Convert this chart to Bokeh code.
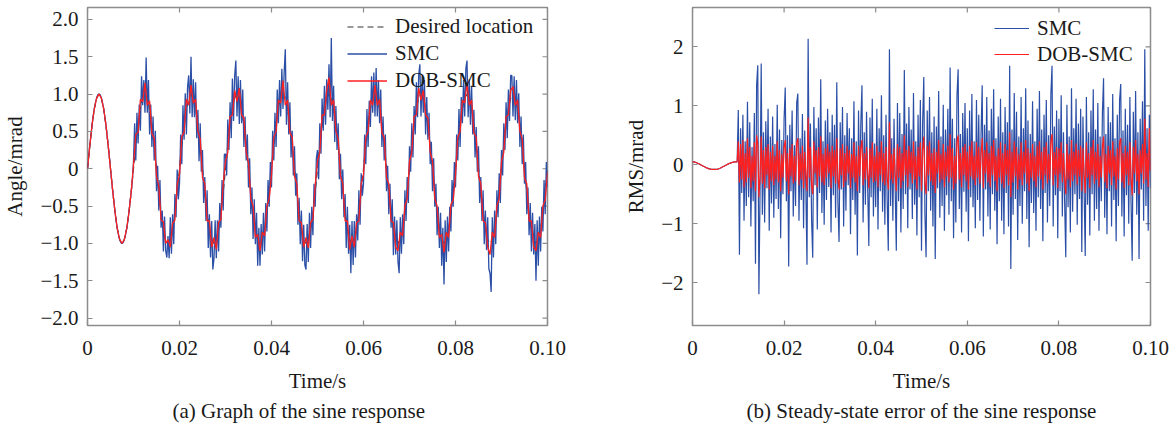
import numpy as np
from bokeh.plotting import figure
from bokeh.models import Range1d, FixedTicker, Legend, LegendItem, Title
from bokeh.layouts import row
from bokeh.embed import file_html
from bokeh.resources import INLINE

FONT = "Liberation Serif"
BLUE = "#2b4fa6"
RED = "#ff2020"
GRAY = "#8c8c8c"
TXT = "#1a1a1a"
M = "\u2212"

# ---------------- data: (a) sine response ----------------
# desired location and DOB-SMC, sampled every 0.0005 s
t_a = np.round(np.arange(201) * 0.0005, 6)

desired = [
    0, 0.31, 0.59, 0.81, 0.95, 1.0, 0.95, 0.81, 0.59, 0.31, 0, -0.31, -0.59, -0.81, -0.95, -1.0, -0.95, -0.81, -0.59, -0.31,
    0, 0.31, 0.59, 0.81, 0.95, 1.0, 0.95, 0.81, 0.59, 0.31, 0, -0.31, -0.59, -0.81, -0.95, -1.0, -0.95, -0.81, -0.59, -0.31,
    0, 0.31, 0.59, 0.81, 0.95, 1.0, 0.95, 0.81, 0.59, 0.31, 0, -0.31, -0.59, -0.81, -0.95, -1.0, -0.95, -0.81, -0.59, -0.31,
    0, 0.31, 0.59, 0.81, 0.95, 1.0, 0.95, 0.81, 0.59, 0.31, 0, -0.31, -0.59, -0.81, -0.95, -1.0, -0.95, -0.81, -0.59, -0.31,
    0, 0.31, 0.59, 0.81, 0.95, 1.0, 0.95, 0.81, 0.59, 0.31, 0, -0.31, -0.59, -0.81, -0.95, -1.0, -0.95, -0.81, -0.59, -0.31,
    0, 0.31, 0.59, 0.81, 0.95, 1.0, 0.95, 0.81, 0.59, 0.31, 0, -0.31, -0.59, -0.81, -0.95, -1.0, -0.95, -0.81, -0.59, -0.31,
    0, 0.31, 0.59, 0.81, 0.95, 1.0, 0.95, 0.81, 0.59, 0.31, 0, -0.31, -0.59, -0.81, -0.95, -1.0, -0.95, -0.81, -0.59, -0.31,
    0, 0.31, 0.59, 0.81, 0.95, 1.0, 0.95, 0.81, 0.59, 0.31, 0, -0.31, -0.59, -0.81, -0.95, -1.0, -0.95, -0.81, -0.59, -0.31,
    0, 0.31, 0.59, 0.81, 0.95, 1.0, 0.95, 0.81, 0.59, 0.31, 0, -0.31, -0.59, -0.81, -0.95, -1.0, -0.95, -0.81, -0.59, -0.31,
    0, 0.31, 0.59, 0.81, 0.95, 1.0, 0.95, 0.81, 0.59, 0.31, 0, -0.31, -0.59, -0.81, -0.95, -1.0, -0.95, -0.81, -0.59, -0.31,
    0,
]

dob_a = [
    0, 0.31, 0.59, 0.81, 0.95, 1.0, 0.95, 0.81, 0.59, 0.31, 0, -0.31, -0.59, -0.81, -0.95, -1.0, -0.95, -0.81, -0.59, -0.31,
    0.05, 0.46, 0.49, 0.93, 0.90, 1.15, 0.85, 0.91, 0.47, 0.41, -0.10, -0.23, -0.69, -0.71, -1.00, -0.95, -1.05, -0.73, -0.69, -0.21,
    -0.08, 0.43, 0.49, 0.93, 0.85, 1.12, 0.88, 0.93, 0.50, 0.40, -0.12, -0.20, -0.70, -0.70, -1.05, -0.92, -1.08, -0.72, -0.68, -0.20,
    0.10, 0.22, 0.70, 0.72, 1.05, 0.90, 1.08, 0.72, 0.68, 0.22, 0.08, -0.40, -0.50, -0.92, -0.88, -1.10, -0.85, -0.90, -0.50, -0.40,
    -0.08, 0.42, 0.50, 0.92, 0.88, 1.18, 0.85, 0.92, 0.48, 0.42, -0.10, -0.20, -0.70, -0.72, -1.05, -0.92, -1.06, -0.72, -0.68, -0.22,
    0.10, 0.22, 0.72, 0.72, 1.05, 1.22, 0.85, 0.92, 0.50, 0.40, -0.10, -0.20, -0.70, -0.70, -1.08, -0.90, -1.05, -0.72, -0.70, -0.20,
    -0.08, 0.42, 0.50, 0.92, 0.85, 1.12, 0.85, 0.93, 0.48, 0.42, -0.12, -0.20, -0.70, -0.72, -1.05, -1.10, -0.85, -0.90, -0.50, -0.40,
    0.10, 0.22, 0.70, 0.72, 1.08, 0.92, 1.05, 0.72, 0.68, 0.22, 0.10, -0.40, -0.50, -0.92, -0.88, -1.12, -0.85, -0.92, -0.48, -0.42,
    -0.08, 0.42, 0.50, 0.92, 0.88, 1.15, 0.85, 0.92, 0.48, 0.42, -0.10, -0.20, -0.70, -0.72, -1.05, -1.15, -0.85, -0.92, -0.50, -0.40,
    0.10, 0.22, 0.70, 0.72, 1.05, 1.10, 0.85, 0.92, 0.50, 0.40, -0.12, -0.20, -0.70, -0.70, -1.05, -1.10, -0.85, -0.92, -0.50, -0.42,
    -0.05,
]

# SMC, sampled every 0.00025 s (two rows per 0.01 s period)
t_s = np.round(np.arange(401) * 0.00025, 6)

smc_a = [
    0, 0.16, 0.31, 0.45, 0.59, 0.71, 0.81, 0.89, 0.95, 0.99, 1.0, 0.99, 0.95, 0.89, 0.81, 0.71, 0.59, 0.45, 0.31, 0.16,
    0, -0.16, -0.31, -0.45, -0.59, -0.71, -0.81, -0.89, -0.95, -0.99, -1.0, -0.99, -0.95, -0.89, -0.81, -0.71, -0.59, -0.45, -0.31, -0.16,
    0.10, 0.61, 0.11, 0.75, 0.34, 0.86, 0.51, 1.24, 0.85, 1.19, 0.75, 1.49, 0.75, 1.19, 0.46, 0.86, 0.29, 0.70, 0.11, 0.51,
    -0.30, 0.04, -0.56, -0.15, -0.79, -0.56, -1.11, -0.64, -1.10, -1.19, -0.90, -1.20, -0.65, -1.14, -0.61, -1.01, -0.34, -0.65, -0.01, -0.41,
    -0.20, 0.46, 0.06, 0.85, 0.39, 1.01, 0.46, 1.09, 1.25, 0.74, 1.50, 0.69, 1.20, 0.69, 1.16, 0.41, 0.79, 0.10, 0.61, -0.04,
    0.25, -0.46, -0.11, -0.70, -0.29, -1.06, -0.61, -1.19, -0.70, -1.35, -1.20, -0.69, -1.20, -0.69, -1.11, -0.46, -0.79, -0.15, -0.56, 0.19,
    0.20, -0.09, 0.66, 0.25, 0.89, 0.41, 1.21, 0.64, 1.25, 1.45, 0.70, 1.24, 0.60, 1.19, 0.61, 1.06, 0.29, 0.70, 0.11, 0.46,
    -0.25, 0.14, -0.61, -0.25, -0.94, -0.41, -1.01, -0.59, -1.30, -0.79, -1.30, -0.74, -1.15, -0.59, -1.11, -0.46, -0.84, -0.15, -0.51, 0.09,
    -0.25, 0.51, 0.11, 0.75, 0.29, 1.06, 0.61, 1.19, 0.70, 1.34, 0.80, 1.29, 1.60, 0.59, 1.16, 0.46, 0.89, 0.15, 0.51, -0.09,
    0.30, -0.36, -0.06, -0.75, -0.39, -1.01, -0.56, -1.24, -0.75, -1.29, -1.35, -0.74, -1.25, -0.59, -1.06, -0.51, -0.89, -0.20, -0.51, 0.14,
    0.25, -0.14, 0.61, 0.20, 0.94, 0.51, 1.11, 0.59, 1.20, 0.79, 1.40, 0.69, 1.75, 0.64, 1.11, 0.36, 0.84, 0.25, 0.61, -0.14,
    0.20, -0.41, -0.01, -0.65, -0.34, -1.06, -0.51, -1.14, -0.75, -1.40, -0.70, -1.29, -0.70, -1.19, -0.61, -0.96, -0.29, -0.75, -0.06, -0.36,
    -0.20, 0.46, 0.06, 0.80, 0.29, 0.91, 0.56, 1.24, 0.75, 1.29, 0.70, 1.35, 0.70, 1.19, 0.61, 1.06, 0.29, 0.70, 0.11, 0.46,
    -0.30, 0.04, -0.61, -0.20, -0.79, -0.41, -1.16, -0.64, -1.15, -0.69, -1.25, -1.40, -0.65, -1.14, -0.61, -1.01, -0.29, -0.70, -0.11, -0.46,
    0.30, -0.04, 0.61, 0.15, 0.84, 0.46, 1.16, 0.69, 1.25, 1.40, 0.70, 1.24, 0.75, 1.19, 0.46, 0.96, 0.39, 0.75, 0.06, 0.36,
    -0.30, 0.14, -0.51, -0.20, -0.89, -0.51, -1.06, -0.59, -1.30, -0.79, -1.55, -0.69, -1.25, -0.64, -1.11, -0.51, -0.84, -0.15, -0.51, 0.09,
    -0.25, 0.46, 0.11, 0.80, 0.29, 0.96, 0.61, 1.19, 0.70, 1.34, 1.45, 0.69, 1.20, 0.59, 1.11, 0.46, 0.79, 0.15, 0.56, -0.04,
    0.30, -0.46, -0.11, -0.70, -0.29, -1.01, -0.56, -1.09, -0.65, -1.34, -1.40, -1.65, -0.65, -1.19, -0.56, -1.01, -0.29, -0.65, -0.06, -0.46,
    0.25, -0.09, 0.61, 0.25, 0.89, 0.41, 1.06, 0.64, 1.25, 1.25, 0.70, 1.24, 0.65, 1.19, 0.61, 1.01, 0.29, 0.70, 0.06, 0.46,
    -0.20, 0.09, -0.61, -0.25, -0.89, -0.46, -1.11, -0.59, -1.15, -0.74, -1.50, -0.69, -1.30, -0.64, -1.11, -0.51, -0.84, -0.15, -0.61, 0.09,
    -0.25,
]

# ---------------- data: (b) steady-state error, sampled every 0.00025 s ----------------
t_b = np.round(np.arange(401) * 0.00025, 6)

err_start = [
    0.05, 0.048, 0.044, 0.038, 0.03, 0.021, 0.011, 0.0, -0.01, -0.02,
    -0.03, -0.04, -0.05, -0.058, -0.065, -0.07, -0.075, -0.078, -0.08, -0.08,
    -0.08, -0.078, -0.074, -0.068, -0.06, -0.05, -0.04, -0.03, -0.02, -0.01,
    0.0, 0.01, 0.02, 0.028, 0.035, 0.04, 0.045, 0.048, 0.05, 0.05,
]

smc_err = err_start + [
    0.93, -1.53, 0.62, -0.48, 0.85, -0.95, 0.40, -0.70, 1.07, -0.55, 0.72, -1.05, 0.30, -0.62, 0.88, -1.68, 1.35, 1.69, -2.20, -0.45,
    1.72, -0.85, 0.55, -0.98, 0.74, -0.40, 0.95, -1.12, 0.48, -0.66, 0.82, -0.90, 0.35, -0.58, 1.02, -0.75, 0.60, -1.25, 0.42, -0.50,
    0.78, 1.31, -0.62, 0.50, -1.73, 0.68, -0.45, 0.92, -0.88, 0.33, -0.70, 1.05, 1.21, -0.95, 0.45, -0.60, 0.86, -1.08, 0.58, -0.42,
    -1.70, 2.14, -0.55, 0.70, -0.92, -1.58, 0.98, -0.35, 0.62, -1.10, 0.80, -0.48, 1.45, -0.82, 0.40, -1.02, 0.75, -0.60, 0.95, -0.38,
    0.55, -1.15, 0.85, -0.52, 0.68, -0.90, 1.40, -0.65, -1.31, 0.72, -0.42, 0.98, -1.05, 0.50, -0.78, 0.88, -0.35, 0.62, -1.18, 0.45,
    -0.60, 1.08, -0.85, 0.40, -1.54, 0.92, -0.48, 0.70, 1.35, -0.98, 0.55, -0.68, 0.90, -0.40, -1.38, 0.80, -0.55, 1.12, -0.88, 0.36,
    -0.72, 0.95, -1.10, 0.62, -0.45, 1.18, -0.80, 0.50, -1.02, 0.85, -0.58, -1.46, 1.96, -0.70, 0.45, -0.95, 0.78, -0.40, -1.46, 1.05,
    -0.62, 0.88, -1.15, 0.52, -0.75, 1.61, -0.50, 0.70, -1.08, 0.98, -0.42, 0.60, -0.92, 1.22, -0.68, 0.40, -1.20, 0.85, -0.55, 1.10,
    -1.46, 0.72, 1.49, -0.85, -1.57, 0.92, -0.45, 1.15, -0.78, 0.55, -1.05, 0.82, -1.60, 0.65, -0.40, 1.25, -0.90, 0.48, -0.70, 1.02,
    -1.12, 0.60, -0.52, 0.95, -0.85, 1.65, -0.62, 0.78, -1.25, 0.45, -0.98, 1.18, 1.62, -0.75, 0.52, -1.15, 0.88, -0.46, 1.05, -0.80,
    0.62, -1.30, 0.92, -0.55, 1.20, -0.72, 0.40, -1.08, 1.10, -0.60, 0.85, -0.95, 0.50, 1.35, -1.22, 0.68, -0.42, 1.15, -0.88, 0.58,
    -1.10, 0.95, -0.50, 1.28, -0.78, 0.45, -1.35, 0.82, -0.62, 1.12, -0.95, 0.55, -1.18, 0.98, -0.48, 0.72, -1.05, 1.68, -1.77, 0.60,
    -0.85, 1.22, -0.58, 0.90, -1.28, 0.48, -0.70, 1.15, -1.00, 0.62, -0.45, 1.30, -0.92, 0.75, -1.40, 0.52, -0.65, 1.08, -0.82, 0.40,
    -1.12, 0.95, -0.55, 1.25, -0.75, 0.60, -1.30, 0.85, -0.48, 1.10, -0.98, 0.50, -0.70, 1.20, 1.68, -1.05, 0.65, -0.52, 0.92, -1.25,
    0.78, -0.45, 1.18, -0.88, 0.55, -0.62, -1.57, 1.02, -0.72, 0.48, -1.15, 1.30, -0.80, 0.62, -0.50, 1.12, -1.02, 0.70, -0.58, 0.95,
    -1.48, 0.82, -0.40, -1.55, 1.15, -0.68, 0.55, -1.20, 0.92, -0.50, 1.28, -0.95, 0.60, -0.75, 1.05, -1.12, 0.48, -0.62, 0.88, 1.47,
    -0.90, 0.52, -1.18, 0.98, -0.45, 0.72, -1.05, 1.20, -0.60, 0.45, -1.30, 0.85, -0.70, 1.10, 1.37, -0.88, 0.58, -1.22, 0.95, -0.52,
    0.68, -1.00, 1.15, -0.62, -1.63, 0.90, -0.48, 1.25, -0.85, 0.55, -1.60, 0.78, -0.42, 1.08, -0.95, 1.96, -0.70, 0.62, -1.12, 0.85,
    -0.40,
]

dob_err = err_start + [
    0.40, -0.30, 0.35, -0.25, 0.42, -0.38, 0.20, -0.30, 0.45, -0.22, 0.30, -0.40, 0.15, -0.28, 0.38, -0.45, 0.50, 0.35, -0.55, -0.20,
    0.48, -0.32, 0.25, -0.40, 0.30, -0.18, 0.35, -0.42, 0.22, -0.28, 0.32, -0.35, 0.15, -0.25, 0.40, -0.30, 0.25, -0.45, 0.18, -0.22,
    0.30, 0.42, -0.28, 0.20, -0.50, 0.28, -0.20, 0.35, -0.32, 0.15, -0.28, 0.38, 0.45, -0.35, 0.20, -0.25, 0.32, -0.40, 0.22, -0.18,
    -0.45, 0.80, -0.22, 0.30, -0.35, -0.50, 0.40, -0.15, 0.25, -0.38, 0.30, -0.20, 0.48, -0.30, 0.18, -0.35, 0.28, -0.22, 0.35, -0.15,
    0.22, -0.40, 0.32, -0.20, 0.25, -0.32, 0.45, -0.25, -0.42, 0.28, -0.18, 0.35, -0.38, 0.20, -0.28, 0.32, -0.15, 0.25, -0.40, 0.18,
    -0.22, 0.38, -0.30, 0.15, -0.45, 0.32, -0.20, 0.28, 0.42, -0.35, 0.20, -0.25, 0.30, -0.15, -0.40, 0.28, -0.22, 0.38, -0.30, 0.15,
    -0.28, 0.32, -0.38, 0.22, -0.18, 0.40, -0.30, 0.20, -0.35, 0.30, -0.22, -0.42, 0.72, -0.25, 0.18, -0.32, 0.28, -0.15, -0.45, 0.35,
    -0.22, 0.30, -0.40, 0.20, -0.28, 0.50, -0.18, 0.25, -0.38, 0.32, -0.15, 0.22, -0.32, 0.40, -0.25, 0.15, -0.42, 0.30, -0.20, 0.38,
    -0.45, 0.25, 0.48, -0.30, -0.50, 0.32, -0.18, 0.40, -0.28, 0.20, -0.35, 0.28, -0.48, 0.22, -0.15, 0.42, -0.30, 0.18, -0.25, 0.35,
    -0.38, 0.22, -0.20, 0.32, -0.30, 0.52, -0.22, 0.28, -0.42, 0.15, -0.32, 0.40, 0.50, -0.25, 0.20, -0.38, 0.30, -0.18, 0.35, -0.28,
    0.22, -0.42, 0.32, -0.20, 0.40, -0.25, 0.15, -0.35, 0.38, -0.22, 0.30, -0.32, 0.18, 0.45, -0.40, 0.25, -0.15, 0.38, -0.30, 0.20,
    -0.38, 0.32, -0.18, 0.42, -0.28, 0.15, -0.45, 0.28, -0.22, 0.38, -0.32, 0.20, -0.40, 0.35, -0.18, 0.25, -0.35, 0.55, -0.55, 0.22,
    -0.30, 0.40, -0.20, 0.30, -0.42, 0.18, -0.25, 0.38, -0.35, 0.22, -0.15, 0.42, -0.32, 0.28, -0.45, 0.20, -0.22, 0.35, -0.28, 0.15,
    -0.38, 0.32, -0.20, 0.40, -0.25, 0.22, -0.42, 0.30, -0.18, 0.38, -0.32, 0.18, -0.25, 0.40, 0.52, -0.35, 0.22, -0.18, 0.30, -0.40,
    0.28, -0.15, 0.38, -0.30, 0.20, -0.22, -0.50, 0.35, -0.25, 0.18, -0.38, 0.42, -0.28, 0.22, -0.18, 0.36, -0.34, 0.25, -0.20, 0.32,
    -0.45, 0.28, -0.15, -0.48, 0.38, -0.22, 0.20, -0.40, 0.30, -0.18, 0.42, -0.32, 0.22, -0.25, 0.35, -0.38, 0.15, -0.22, 0.30, 0.48,
    -0.30, 0.18, -0.40, 0.32, -0.15, 0.25, -0.35, 0.40, -0.20, 0.15, -0.42, 0.28, -0.25, 0.38, 0.45, -0.30, 0.20, -0.40, 0.32, -0.18,
    0.22, -0.35, 0.38, -0.22, -0.52, 0.30, -0.15, 0.42, -0.28, 0.18, -0.50, 0.25, -0.15, 0.35, -0.32, 0.78, -0.25, 0.20, -0.38, 0.62,
    -0.10,
]

x_ticks = [0, 0.02, 0.04, 0.06, 0.08, 0.1]
x_tick_labels = ["0", "0.02", "0.04", "0.06", "0.08", "0.10"]
ya_ticks = [-2, -1.5, -1, -0.5, 0, 0.5, 1, 1.5, 2]
ya_tick_labels = [M + "2.0", M + "1.5", M + "1.0", M + "0.5", "0", "0.5", "1.0", "1.5", "2.0"]
yb_ticks = [-2, -1, 0, 1, 2]
yb_tick_labels = [M + "2", M + "1", "0", "1", "2"]

assert len(desired) == len(dob_a) == len(t_a)
assert len(smc_a) == len(t_s)
assert len(smc_err) == len(dob_err) == len(t_b)

FRAME_H = 318
TICK_PX = 5
FS = "21px"


def style_axis(ax, ticks, labels):
    ax.ticker = FixedTicker(ticks=ticks)
    ax.major_label_overrides = dict(zip(ticks, labels))
    ax.minor_tick_line_color = None
    ax.major_tick_in = TICK_PX
    ax.major_tick_out = 0
    ax.major_tick_line_color = GRAY
    ax.major_tick_line_width = 1.2
    ax.axis_line_color = None
    ax.major_label_text_font = FONT
    ax.major_label_text_font_size = FS
    ax.major_label_text_color = TXT
    ax.axis_label_text_font = FONT
    ax.axis_label_text_font_size = FS
    ax.axis_label_text_font_style = "normal"
    ax.axis_label_text_color = TXT


def make_fig(frame_w, bl, br, yr, yticks, ylabels, ylabel, caption, cap_align, cap_offset):
    p = figure(frame_width=frame_w, frame_height=FRAME_H,
               min_border_left=bl, min_border_right=br, min_border_top=7, min_border_bottom=95,
               x_range=Range1d(0, 0.1), y_range=Range1d(*yr),
               output_backend="svg", toolbar_location=None)
    p.grid.visible = False
    p.outline_line_color = GRAY
    p.outline_line_width = 1.5
    p.background_fill_color = "white"
    p.border_fill_color = "white"
    style_axis(p.xaxis[0], x_ticks, x_tick_labels)
    style_axis(p.yaxis[0], yticks, ylabels)
    p.xaxis[0].major_label_standoff = 15
    p.xaxis[0].axis_label = "Time/s"
    p.xaxis[0].axis_label_standoff = 11
    p.yaxis[0].major_label_standoff = 9
    p.yaxis[0].axis_label = ylabel
    p.yaxis[0].axis_label_standoff = 10
    # mirrored inward ticks on the top and right frame edges, at the axis tick values
    dy = (yr[1] - yr[0]) * TICK_PX / FRAME_H
    dx = 0.1 * TICK_PX / frame_w
    p.segment(x0=x_ticks, y0=[yr[1]] * len(x_ticks), x1=x_ticks, y1=[yr[1] - dy] * len(x_ticks),
              line_color=GRAY, line_width=1.2)
    p.segment(x0=[0.1] * len(yticks), y0=yticks, x1=[0.1 - dx] * len(yticks), y1=yticks,
              line_color=GRAY, line_width=1.2)
    p.add_layout(Title(text=caption, align=cap_align, offset=cap_offset, text_font=FONT,
                       text_font_size=FS, text_font_style="normal", text_color=TXT, standoff=2), "below")
    return p


def make_legend(items, loc, gh):
    return Legend(items=items, location=loc, padding=2, spacing=0,
                  glyph_width=40 if len(items) == 3 else 35, glyph_height=gh, label_standoff=8,
                  label_height=gh, label_text_font=FONT, label_text_font_size=FS,
                  label_text_color=TXT, background_fill_alpha=0, border_line_color=None)


# ---------------- panel (a) ----------------
pa = make_fig(460, 78, 59, (-2.10, 2.16), ya_ticks, ya_tick_labels, "Angle/mrad",
              "(a) Graph of the sine response", "left", 85)
r_des = pa.line(t_a, desired, line_color="#333333", line_width=1.2, line_dash="6 4")
r_smc = pa.line(t_s, smc_a, line_color=BLUE, line_width=1.3)
r_dob = pa.line(t_a, dob_a, line_color=RED, line_width=1.3)
pa.add_layout(make_legend([LegendItem(label="Desired location", renderers=[r_des]),
                           LegendItem(label="SMC", renderers=[r_smc]),
                           LegendItem(label="DOB-SMC", renderers=[r_dob])], (260, 231), 27))

# ---------------- panel (b) ----------------
pb = make_fig(458, 86, 21, (-2.73, 2.67), yb_ticks, yb_tick_labels, "RMS/mrad",
              "(b) Steady-state error of the sine response", "center", 0)
r_smc_b = pb.line(t_b, smc_err, line_color=BLUE, line_width=1.2)
r_dob_b = pb.line(t_b, dob_err, line_color=RED, line_width=1.2)
pb.add_layout(make_legend([LegendItem(label="SMC", renderers=[r_smc_b]),
                           LegendItem(label="DOB-SMC", renderers=[r_dob_b])], (302, 258), 26))

layout = row(pa, pb)
open("out.html", "w").write(file_html(layout, INLINE))
